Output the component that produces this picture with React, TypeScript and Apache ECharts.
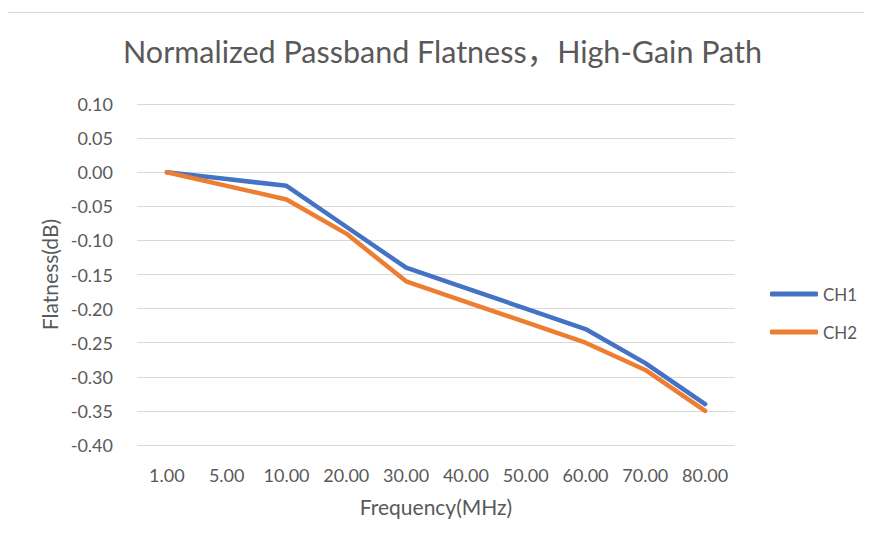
import React, { useEffect, useRef } from "react";
import * as echarts from "echarts";

const categories = ["1.00", "5.00", "10.00", "20.00", "30.00", "40.00", "50.00", "60.00", "70.00", "80.00"];
const ch1 = [0, -0.01, -0.02, -0.08, -0.14, -0.17, -0.2, -0.23, -0.28, -0.34];
const ch2 = [0, -0.02, -0.04, -0.09, -0.16, -0.19, -0.22, -0.25, -0.29, -0.35];
const titleText = "Normalized Passband Flatness，High-Gain Path";

const FONT = "Lato, 'Noto Sans CJK SC', sans-serif";
const TEXT = "#595959";

export default function App() {
  const ref = useRef<HTMLDivElement>(null);
  useEffect(() => {
    if (!ref.current) return;
    const chart = echarts.init(ref.current, undefined, { renderer: "svg" });
    chart.setOption({
      animation: false,
      backgroundColor: "#ffffff",
      graphic: [
        {
          type: "rect",
          shape: { x: 3.5, y: 12.5, width: 864, height: 540 },
          style: { fill: "none", stroke: "#D9D9D9", lineWidth: 1 },
          silent: true,
        },
        {
          type: "text",
          x: 442.5,
          y: 50.5,
          style: {
            text: titleText,
            fontFamily: FONT,
            fontSize: 30.5,
            fill: TEXT,
            textAlign: "center",
            textVerticalAlign: "middle",
          },
          silent: true,
        },
      ],
      legend: {
        orient: "vertical",
        left: 765,
        top: 279,
        itemWidth: 48,
        itemHeight: 5,
        itemGap: 18,
        icon: "roundRect",
        textStyle: { fontFamily: FONT, fontSize: 17, color: TEXT, lineHeight: 20 },
        data: ["CH1", "CH2"],
      },
      grid: { left: 137, right: 137, top: 104, bottom: 98 },
      xAxis: {
        type: "category",
        data: categories,
        boundaryGap: true,
        name: "Frequency(MHz)",
        nameLocation: "middle",
        nameGap: 51,
        nameTextStyle: { fontFamily: FONT, fontSize: 21, color: TEXT },
        axisLine: { show: false },
        axisTick: { show: false },
        axisLabel: { interval: 0, fontFamily: FONT, fontSize: 18, color: TEXT, margin: 21 },
      },
      yAxis: {
        type: "value",
        min: -0.4,
        max: 0.1,
        interval: 0.05,
        name: "Flatness(dB)",
        nameLocation: "middle",
        nameGap: 74,
        nameTextStyle: { fontFamily: FONT, fontSize: 21, color: TEXT },
        axisLine: { show: false },
        axisTick: { show: false },
        axisLabel: {
          fontFamily: FONT,
          fontSize: 18,
          color: TEXT,
          margin: 24,
          formatter: (v: number) => (Math.abs(v) < 1e-9 ? "0.00" : v.toFixed(2)),
        },
        splitLine: { lineStyle: { color: "#D9D9D9", width: 1.2 } },
      },
      series: [
        {
          name: "CH1",
          type: "line",
          data: ch1,
          showSymbol: false,
          symbol: "none",
          lineStyle: { color: "#4472C4", width: 4.5, cap: "round", join: "round" },
          itemStyle: { color: "#4472C4" },
        },
        {
          name: "CH2",
          type: "line",
          data: ch2,
          showSymbol: false,
          symbol: "none",
          lineStyle: { color: "#ED7D31", width: 4.5, cap: "round", join: "round" },
          itemStyle: { color: "#ED7D31" },
        },
      ],
    });
    return () => chart.dispose();
  }, []);
  return <div ref={ref} style={{ width: 872, height: 543, margin: -8 }} />;
}
